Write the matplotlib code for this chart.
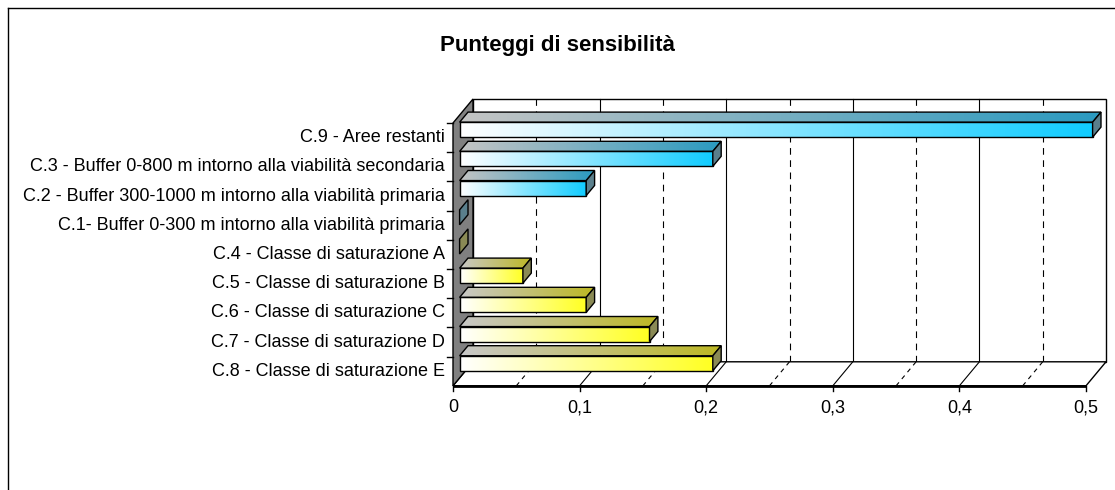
import numpy as np
import matplotlib
matplotlib.use("Agg")
import matplotlib.pyplot as plt
from matplotlib.patches import Polygon
from matplotlib.colors import to_rgb
from matplotlib import font_manager

# ---------------- data ----------------
categories = [
    "C.9 - Aree restanti",
    "C.3 - Buffer 0-800 m intorno alla viabilità secondaria",
    "C.2 - Buffer 300-1000 m intorno alla viabilità primaria",
    "C.1- Buffer 0-300 m intorno alla viabilità primaria",
    "C.4 - Classe di saturazione A",
    "C.5 - Classe di saturazione B",
    "C.6 - Classe di saturazione C",
    "C.7 - Classe di saturazione D",
    "C.8 - Classe di saturazione E",
]
values = [0.5, 0.2, 0.1, 0.0, 0.0, 0.05, 0.1, 0.15, 0.2]
bar_group = ["blue", "blue", "blue", "blue", "yellow", "yellow", "yellow", "yellow", "yellow"]
x_ticks = [0, 0.1, 0.2, 0.3, 0.4, 0.5]
x_tick_labels = ["0", "0,1", "0,2", "0,3", "0,4", "0,5"]
title = "Punteggi di sensibilità"

# ---------------- styles ----------------
palette = {
    "blue": dict(front=("#FFFFFF", "#10CCFF"), top=("#C4C4C4", "#2A9AC0"), side="#5A7F8C"),
    "yellow": dict(front=("#FFFFFF", "#FFFF22"), top=("#C8C8C8", "#BDB823"), side="#8A8A55"),
}

available = {f.name for f in font_manager.fontManager.ttflist}
base_font = "Liberation Sans" if "Liberation Sans" in available else "DejaVu Sans"

W, H = 1115, 490
fig = plt.figure(figsize=(W / 100, H / 100), dpi=100)
ax = fig.add_axes([0, 0, 1, 1])
ax.set_axis_off()

# mapping: value axis (front plane) and category bands
px_per_unit = 1266.0
x0_px = 453.0
band_px = 29.2
bottom_px = 385.8
ax.set_xlim(-x0_px / px_per_unit, (W - x0_px) / px_per_unit)
ax.set_ylim((bottom_px - H) / band_px - 0.5, bottom_px / band_px - 0.5)

n = len(categories)
ypos = np.arange(n)[::-1]  # first category on top
vmax = x_ticks[-1]
dxd = 20 / px_per_unit          # depth offset in value units
dyd = 24 / band_px              # depth offset in category units
ylo, yhi = -0.5, n - 0.5


def poly(pts, fc, ec="black", lw=1.0, z=1, ls="-"):
    p = Polygon(pts, closed=True, facecolor=fc, edgecolor=ec, linewidth=lw, zorder=z,
                linestyle=ls, joinstyle="miter")
    ax.add_patch(p)
    return p


def grad_poly(pts, c0, c1, z):
    pts = np.asarray(pts)
    xa, xb = pts[:, 0].min(), pts[:, 0].max()
    ya, yb = pts[:, 1].min(), pts[:, 1].max()
    t = np.linspace(0, 1, 256)[None, :, None]
    img = (1 - t) * np.array(to_rgb(c0)) + t * np.array(to_rgb(c1))
    p = poly(pts, "none", ec="none", z=z)
    im = ax.imshow(img, extent=[xa, xb, ya, yb], aspect="auto", interpolation="bilinear",
                   zorder=z, origin="lower")
    im.set_clip_path(p)
    poly(pts, "none", ec="black", lw=1.0, z=z + 0.1)


# back wall
poly([(dxd, ylo + dyd), (vmax + dxd, ylo + dyd), (vmax + dxd, yhi + dyd), (dxd, yhi + dyd)],
     "white", z=1)
# gridlines on back wall
for k in range(1, 10):
    v = 0.05 * k
    ls = "-" if k % 2 == 0 else (0, (6, 5))
    ax.plot([v + dxd, v + dxd], [ylo + dyd, yhi + dyd], color="black", lw=0.8, ls=ls, zorder=1.5)
# floor
poly([(0, ylo), (vmax, ylo), (vmax + dxd, ylo + dyd), (dxd, ylo + dyd)], "white", z=2)
for k in range(1, 10):
    v = 0.05 * k
    ls = "-" if k % 2 == 0 else (0, (4, 4))
    ax.plot([v, v + dxd], [ylo, ylo + dyd], color="black", lw=0.8, ls=ls, zorder=2.2)
# left wall
poly([(0, ylo), (0, yhi), (dxd, yhi + dyd), (dxd, ylo + dyd)], "#808080", z=3)
# front axis line
ax.plot([0, vmax], [ylo, ylo], color="black", lw=2.0, zorder=9, solid_capstyle="butt")
for v, lab in zip(x_ticks, x_tick_labels):
    ax.plot([v, v], [ylo, ylo - 5 / band_px], color="black", lw=1.0, zorder=9)
    ax.text(v, ylo - 22 / band_px, lab, ha="center", va="center", fontsize=13,
            family=base_font, zorder=10)

# category ticks and labels
for k in range(n):
    ax.plot([-6 / px_per_unit, 0], [ylo + k + 1, ylo + k + 1], color="black", lw=1.0, zorder=9)
for y, lab in zip(ypos, categories):
    ax.text(-8 / px_per_unit, y, lab, ha="right", va="center", fontsize=13,
            family=base_font, zorder=10)

# bars
f1, f2 = 0.33, 0.75
half = 7.5 / band_px
for y, v, g in zip(ypos, values, bar_group):
    col = palette[g]
    ax1, ay1 = f1 * dxd, f1 * dyd
    ax2, ay2 = f2 * dxd, f2 * dyd
    front = [(ax1, y + ay1 - half), (v + ax1, y + ay1 - half), (v + ax1, y + ay1 + half), (ax1, y + ay1 + half)]
    top = [(ax1, y + ay1 + half), (v + ax1, y + ay1 + half), (v + ax2, y + ay2 + half), (ax2, y + ay2 + half)]
    side = [(v + ax1, y + ay1 - half), (v + ax2, y + ay2 - half), (v + ax2, y + ay2 + half), (v + ax1, y + ay1 + half)]
    if v > 0:
        grad_poly(top, col["top"][0], col["top"][1], z=5)
        grad_poly(front, col["front"][0], col["front"][1], z=5)
    poly(side, col["side"], z=5.5)

# title
fig.text(557 / W, 1 - 45 / H, title, ha="center", va="center", fontsize=16,
         fontweight="bold", family=base_font)

# chart area border (left and top)
fig.add_artist(plt.Line2D([7.5 / W, 7.5 / W], [0, 1 - 8.5 / H], color="black", lw=1.0,
                          transform=fig.transFigure))
fig.add_artist(plt.Line2D([7.5 / W, 1], [1 - 8.5 / H, 1 - 8.5 / H], color="black", lw=1.0,
                          transform=fig.transFigure))

fig.savefig("out.png", dpi=100)
